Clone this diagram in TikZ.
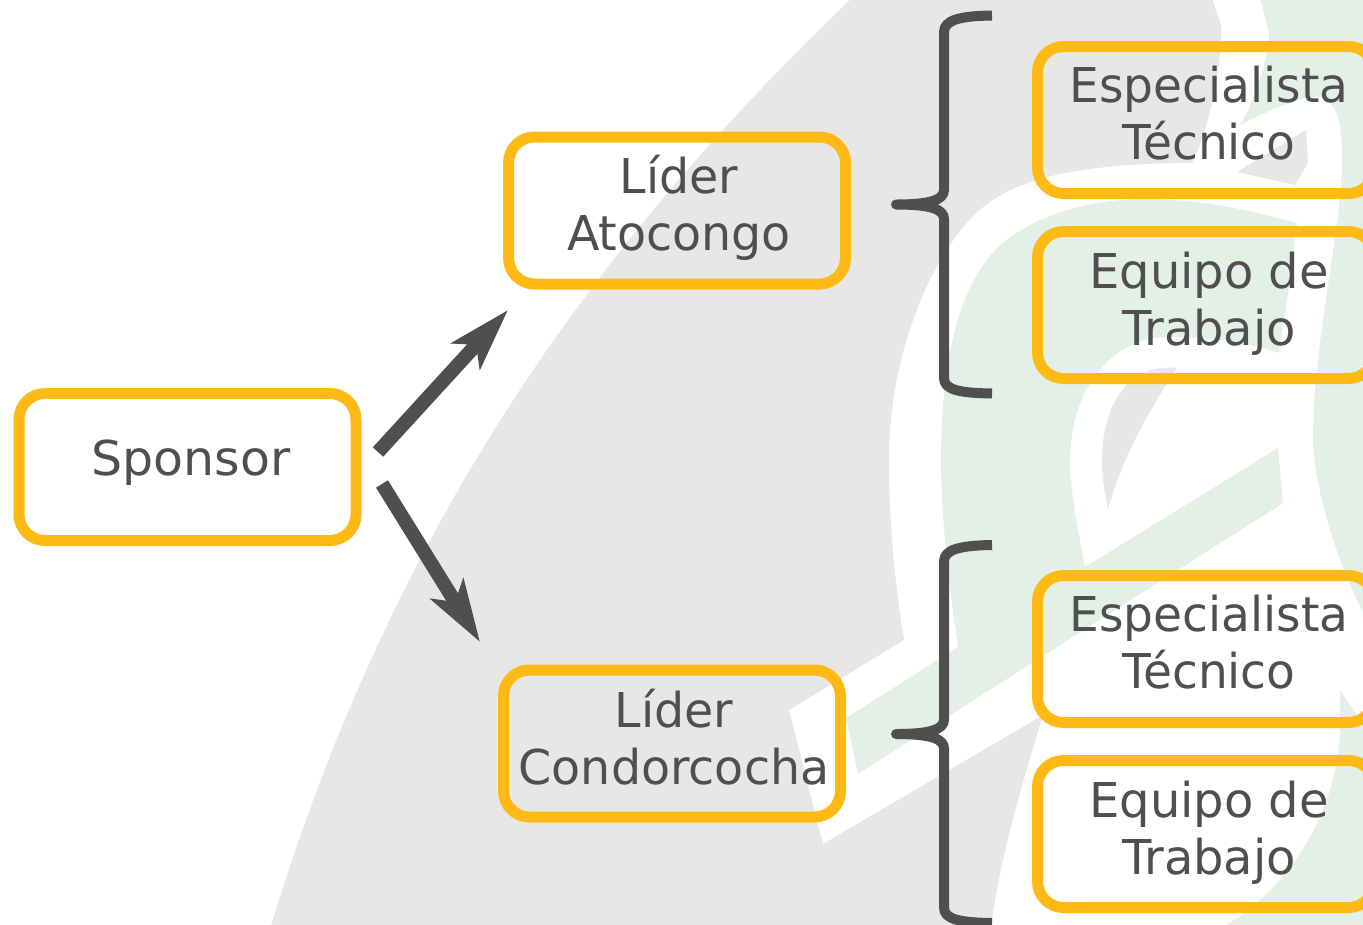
\documentclass[tikz,border=0pt]{standalone}
\usepackage{fontspec}
\setmainfont{DejaVu Sans}
\usetikzlibrary{arrows.meta}
\definecolor{boxorange}{HTML}{FFB915}
\definecolor{inkgray}{HTML}{4F4F4F}
\definecolor{bggray}{HTML}{E7E7E6}
\definecolor{bggreen}{HTML}{E3F0E8}
\tikzset{
  roundbox/.style={draw=boxorange,line width=11pt,rounded corners=26pt,minimum width=337pt,minimum height=147pt,inner sep=0pt},
  boxtext/.style={text=inkgray,align=center,inner sep=0pt,font=\fontsize{48}{57}\selectfont},
  bigarrow/.style={draw=inkgray,line width=14pt,line cap=butt,-{Stealth[length=62pt,width=38pt,inset=15pt,fill=inkgray]}},
  bracket/.style={draw=inkgray,line width=10pt,line join=round,line cap=butt}
}
\newcommand{\bracketpath}{(992,15.5) .. controls (960,16) and (944,20) .. (944,32) -- (944,190) .. controls (944,200) and (930,204.5) .. (896,204.5) .. controls (930,204.5) and (944,209) .. (944,219) -- (944,378) .. controls (944,390) and (960,393) .. (992,393.5)}
\begin{document}
\begin{tikzpicture}[x=1pt,y=-1pt]
\useasboundingbox (0,0) rectangle (1363,924);
\clip (0,0) rectangle (1363,924);
% background watermark
\fill[white] (0,0) rectangle (1363,924);
\fill[bggray] (271,926) .. controls (400,500) and (620,220) .. (852,-2)
  -- (1212,-2) -- (1221,25) -- (1221,40) .. controls (1219,80) and (1208,130) .. (1192,163)
  .. controls (1120,163) and (1040,170) .. (998,197)
  .. controls (945,225) and (888,340) .. (889,462)
  .. controls (889,530) and (896,590) .. (904,640)
  -- (789,710) -- (823,844) -- (1043,715)
  .. controls (1020,790) and (1000,860) .. (991,926) -- cycle;
\fill[bggray] (1237,172) -- (1306,130) -- (1308,163) -- (1295,185) -- cycle;
\fill[bggray] (1177,368) .. controls (1140,364) and (1102,390) .. (1102,462)
  .. controls (1102,480) and (1105,495) .. (1108,509)
  .. controls (1125,450) and (1150,410) .. (1177,368) -- cycle;
% green: right part
\fill[bggreen] (1260,-2) -- (1269,33) .. controls (1268,60) and (1255,100) .. (1240,125)
  .. controls (1270,110) and (1300,97) .. (1315,97)
  .. controls (1340,97) and (1342,130) .. (1342,160)
  .. controls (1342,230) and (1313,340) .. (1313,440)
  .. controls (1313,480) and (1335,560) .. (1365,616)
  -- (1365,-2) -- cycle;
% green: middle part
\fill[bggreen] (958,647) .. controls (950,590) and (941,520) .. (941,462)
  .. controls (941,370) and (955,290) .. (998,247)
  .. controls (1040,210) and (1100,199) .. (1145,199)
  .. controls (1200,199) and (1250,210) .. (1297,223)
  .. controls (1292,270) and (1285,315) .. (1279,353)
  .. controls (1240,340) and (1200,336) .. (1164,337)
  .. controls (1120,338) and (1070,380) .. (1070,462)
  .. controls (1070,490) and (1078,530) .. (1085,567)
  -- (1278,448) -- (1283,503) -- (858,774) -- (846,718) -- cycle;
% green: lower right part
\fill[bggreen] (1340,690) -- (1365,727) -- (1365,926) -- (1225,926)
  .. controls (1300,880) and (1338,800) .. (1340,729) -- cycle;
% boxes
\node[roundbox] (sponsor) at (187.5,467) {};
\node[roundbox] (atocongo) at (677,210.5) {};
\node[roundbox] (condor) at (672,743.5) {};
\node[roundbox] (esp1) at (1206,120) {};
\node[roundbox] (eq1) at (1206,305) {};
\node[roundbox] (esp2) at (1206,649) {};
\node[roundbox] (eq2) at (1206,834) {};
% labels
\node[boxtext,xscale=1.02] (sponsorT) at (191,463) {Sponsor};
\node[boxtext,xscale=.99] (atocongoT) at (679,208) {Líder\\Atocongo};
\node[boxtext,xscale=.99] (condorT) at (674,737) {Líder\\Condorcocha};
\node[boxtext,xscale=.98] (esp1T) at (1209,113) {Especialista\\Técnico};
\node[boxtext] (eq1T) at (1209,303.5) {Equipo de\\Trabajo};
\node[boxtext,xscale=.98] (esp2T) at (1209,642) {Especialista\\Técnico};
\node[boxtext] (eq2T) at (1209,832.5) {Equipo de\\Trabajo};
% arrows
\coordinate (a1s) at (378,452);
\coordinate (a1e) at (508,310);
\coordinate (a2s) at (382,484);
\coordinate (a2e) at (480,642);
\draw[bigarrow] (a1s) -- (a1e);
\draw[bigarrow] (a2s) -- (a2e);
% brackets
\draw[bracket] \bracketpath;
\draw[bracket,shift={(0,529.5)}] \bracketpath;
\end{tikzpicture}
\end{document}
